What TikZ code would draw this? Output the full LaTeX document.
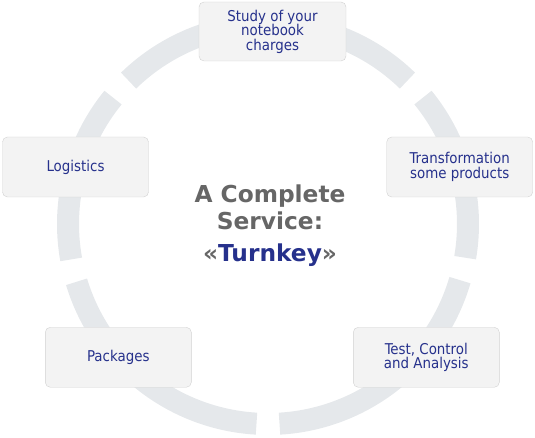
\documentclass[tikz,border=0pt]{standalone}
\usepackage{fontspec}
\setmainfont{DejaVu Sans}
\newfontfamily\condfont{DejaVu Sans Condensed}
\usepackage{tikz}
\usetikzlibrary{positioning,calc}
\definecolor{ringgray}{RGB}{229,232,235}
\definecolor{boxfill}{RGB}{243,243,243}
\definecolor{boxline}{RGB}{210,210,210}
\definecolor{navy}{RGB}{38,49,140}
\definecolor{textgray}{RGB}{102,102,102}
\newcommand{\boxfont}{\condfont\fontsize{14.9}{14.5}\selectfont}

\begin{document}
\begin{tikzpicture}[x=1pt,y=1pt,
    ring/.style={ringgray,line width=22pt},
    stage/.style={draw=boxline,fill=boxfill,rounded corners=5pt,minimum width=146pt,
      minimum height=60pt,inner sep=0pt,align=center,text=navy,font=\boxfont}]
    \useasboundingbox (0,0) rectangle (535,438);
    \coordinate (c) at (268,214);
    % ring, five pieces
    \foreach \a/\b in {45.8/134.2, 140.8/190.2, 196.8/266.7, 273.3/343.7, 350.3/399.2}
        \draw[ring] (c) ++(\a:200pt) arc (\a:\b:200pt);
    \node[stage,minimum width=147pt,minimum height=59pt] (study) at (272.5,406.5) {Study of your\\notebook\\charges};
    \node[stage] (logistics) at (75.5,271) {Logistics};
    \node[stage] (transform) at (459.7,271) {Transformation\\some products};
    \node[stage] (packages) at (118.3,80.7) {Packages};
    \node[stage] (testing) at (426.3,80.7) {Test, Control\\and Analysis};
    \node[align=center,text=textgray,font=\fontsize{23.3}{26.6}\selectfont\bfseries] (service) at (270,212)
        {A Complete\\Service:\\[5.8pt]«\textcolor{navy}{Turnkey}»};
\end{tikzpicture}
\end{document}
